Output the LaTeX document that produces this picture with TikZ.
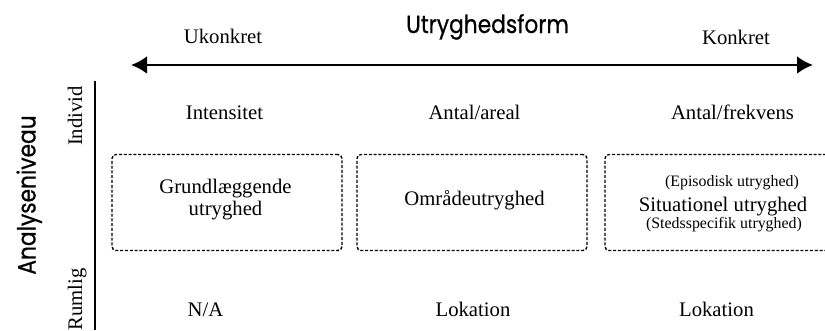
\documentclass[tikz,border=0pt]{standalone}
\usepackage{fontspec}
\setmainfont{Liberation Serif}
\newfontfamily\headfont[FakeStretch=0.87,FakeBold=0.6]{Poppins}
\usetikzlibrary{arrows.meta}
\begin{document}
\begin{tikzpicture}[x=1pt,y=-1pt,
  lbl/.style={font=\fontsize{20.7}{18}\selectfont, inner sep=0pt},
  small/.style={font=\fontsize{15.9}{16}\selectfont, inner sep=0pt},
  head/.style={font=\headfont\fontsize{25}{28}\selectfont, inner sep=0pt},
  boxnode/.style={draw, line width=1.4pt, dash pattern=on 3pt off 1.8pt, rounded corners=4pt,
    minimum width=230pt, minimum height=96pt, inner sep=0pt}]
\useasboundingbox (0,0) rectangle (825,330);
\clip (0,0) rectangle (825,330);
% top axis
\node[head, anchor=base] (title) at (487.5,33) {Utryghedsform};
\node[lbl, anchor=base] (ukon) at (223,43) {Ukonkret};
\node[lbl, anchor=base] (kon) at (736,44) {Konkret};
\coordinate (al) at (131,65);
\coordinate (ar) at (813,65);
\draw[line width=2.8pt, {Latex[length=16pt,width=18pt]}-{Latex[length=16pt,width=18pt]}] (al) -- (ar);
% left axis
\coordinate (vt) at (95,81);
\coordinate (vb) at (95,330);
\draw[line width=1.8pt] (vt) -- (vb);
\node[head, rotate=90, anchor=base] (ana) at (35.5,195) {Analyseniveau};
\node[lbl, rotate=90, anchor=base] (ind) at (82,116) {Individ};
\node[lbl, rotate=90, anchor=base] (rum) at (82,299.5) {Rumlig};
% top row
\node[lbl, anchor=base] (t1) at (224.5,119) {Intensitet};
\node[lbl, anchor=base] (t2) at (474.5,119) {Antal/areal};
\node[lbl, anchor=base] (t3) at (732.5,119) {Antal/frekvens};
% boxes
\node[boxnode] (b1) at (227,202.5) {};
\node[boxnode] (b2) at (472,202.5) {};
\node[boxnode] (b3) at (720,202.5) {};
\node[lbl, anchor=base] (b1a) at (225.5,193) {Grundlæggende};
\node[lbl, anchor=base] (b1b) at (225.5,215) {utryghed};
\node[lbl, anchor=base] (b2a) at (474.5,205) {Områdeutryghed};
\node[small, anchor=base] (b3a) at (732,186) {(Episodisk utryghed)};
\node[lbl, anchor=base] (b3b) at (723,211) {Situationel utryghed};
\node[small, anchor=base] (b3c) at (724,228.5) {(Stedsspecifik utryghed)};
% bottom row
\node[lbl, anchor=base] (u1) at (205.5,316) {N/A};
\node[lbl, anchor=base] (u2) at (473,316) {Lokation};
\node[lbl, anchor=base] (u3) at (716.5,316) {Lokation};
\end{tikzpicture}
\end{document}
